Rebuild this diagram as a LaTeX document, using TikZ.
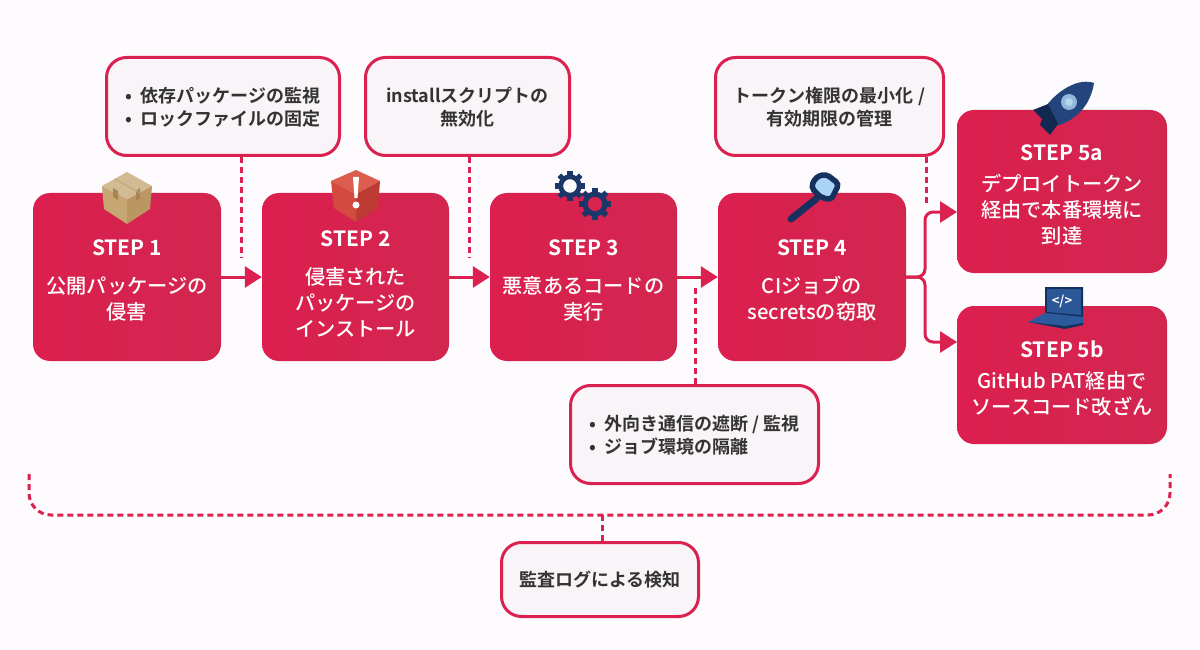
\documentclass[tikz,border=0pt]{standalone}
\usepackage{fontspec}
\setmainfont{Noto Sans CJK JP Medium}[BoldFont={Noto Sans CJK JP Bold}]
\usetikzlibrary{arrows.meta,calc}
\definecolor{bgc}{HTML}{FDFBFD}
\definecolor{crim}{HTML}{DA2150}
\definecolor{crimA}{HTML}{DC1F4E}
\definecolor{crimB}{HTML}{D2264F}
\definecolor{calloutfill}{HTML}{F9F4F7}
\definecolor{inkc}{HTML}{333333}
\definecolor{navy}{HTML}{1B3768}
\definecolor{navyb}{HTML}{24447C}
\definecolor{navyd}{HTML}{14294F}
\definecolor{keyd}{HTML}{16305F}
\definecolor{keyl}{HTML}{A9D4F5}
\definecolor{cardT}{HTML}{D2BA94}
\definecolor{cardL}{HTML}{C6A673}
\definecolor{cardR}{HTML}{BA9663}
\definecolor{cardD}{HTML}{A98552}
\definecolor{cardS}{HTML}{BFA27A}
\definecolor{redT}{HTML}{DC5D4E}
\definecolor{redL}{HTML}{D24B3E}
\definecolor{redR}{HTML}{BE3B33}
\definecolor{winA}{HTML}{8FB8DC}
\definecolor{winB}{HTML}{B5D3EA}
\definecolor{lapD}{HTML}{14305F}
\definecolor{lapS}{HTML}{2B5797}
\definecolor{lapK}{HTML}{2C5A9C}
\tikzset{
 x=1pt,y=-1pt,
 stepbox/.style={rectangle,rounded corners=17pt,left color=crimA,right color=crimB,draw=none,inner sep=0pt},
 steptxt/.style={text=white,align=center,inner sep=0pt,font=\fontsize{20.2}{26}\selectfont},
 callout/.style={rectangle,rounded corners=20pt,draw=crim,line width=3pt,fill=calloutfill,inner sep=0pt},
 calltxt/.style={text=inkc,inner sep=0pt,font=\fontsize{18}{23}\selectfont\bfseries},
 flow/.style={draw=crim,line width=3pt,-{Triangle[length=17pt,width=21pt]}},
 guard/.style={draw=crim,line width=3pt,dash pattern=on 6pt off 4pt},
}
\newcommand{\ttl}[1]{\textbf{\fontsize{21}{26}\selectfont #1}}
\newcommand{\gearicon}[3]{%
 \draw[navy,line width=#3*0.34pt] (#1,#2) circle[radius=#3*0.66];
 \foreach \a in {0,45,...,315}
  \draw[navy,line width=#3*0.36pt] ($(#1,#2)+(\a:#3*0.7)$) -- ($(#1,#2)+(\a:#3*1.08)$);
}
\begin{document}
\begin{tikzpicture}
\useasboundingbox (0,0) rectangle (1200,650);
\fill[bgc] (0,0) rectangle (1200,650);
% step boxes
\node[stepbox,minimum width=188pt,minimum height=168pt] (s1) at (127,277) {};
\node[stepbox,minimum width=187pt,minimum height=168pt] (s2) at (355.5,277) {};
\node[stepbox,minimum width=187pt,minimum height=168pt] (s3) at (583.5,277) {};
\node[stepbox,minimum width=188pt,minimum height=168pt] (s4) at (812,277) {};
\node[stepbox,minimum width=210pt,minimum height=163pt] (s5a) at (1062,191.5) {};
\node[stepbox,minimum width=210pt,minimum height=138pt] (s5b) at (1062,375) {};
% step texts
\node[steptxt] (t1) at (127,280.5) {\ttl{STEP 1}\\[12pt]公開パッケージの\\侵害};
\node[steptxt] (t2) at (355.5,283.5) {\ttl{STEP 2}\\[12pt]侵害された\\パッケージの\\インストール};
\node[steptxt] (t3) at (583.5,280.5) {\ttl{STEP 3}\\[12pt]悪意あるコードの\\実行};
\node[steptxt] (t4) at (812,280.5) {\ttl{STEP 4}\\[12pt]CIジョブの\\secretsの窃取};
\node[steptxt] (t5a) at (1062,195) {\ttl{STEP 5a}\\[5pt]デプロイトークン\\経由で本番環境に\\到達};
\node[steptxt] (t5b) at (1062,379) {\ttl{STEP 5b}\\[5pt]GitHub PAT経由で\\ソースコード改ざん};
% callouts
\node[callout,minimum width=233pt,minimum height=98pt] (ca) at (223,106.5) {};
\node[callout,minimum width=204pt,minimum height=98pt] (cb) at (467.5,106.5) {};
\node[callout,minimum width=228pt,minimum height=98pt] (cc) at (829.5,106.5) {};
\node[callout,minimum width=248pt,minimum height=98pt] (cd) at (694.5,434.5) {};
\node[callout,minimum width=197pt,minimum height=74pt] (ce) at (600,579.5) {};
\node[calltxt,align=left] (ta) at (223,107.5) {•\hspace{9pt}依存パッケージの監視\\•\hspace{9pt}ロックファイルの固定};
\node[calltxt,align=center] (tb) at (467.5,107.5) {installスクリプトの\\無効化};
\node[calltxt,align=center] (tc) at (829.5,107.5) {トークン権限の最小化 /\\有効期限の管理};
\node[calltxt,align=left] (td) at (694.5,435) {•\hspace{9pt}外向き通信の遮断 / 監視\\•\hspace{9pt}ジョブ環境の隔離};
\node[calltxt] (te) at (600,580) {監査ログによる検知};
% flow connectors
\draw[flow] (s1.east) -- (s2.west);
\draw[flow] (s2.east) -- (s3.west);
\draw[flow] (s3.east) -- (s4.west);
\coordinate (jn) at (925,277);
\coordinate (in5a) at (957,212);
\coordinate (in5b) at (957,342);
\draw[flow,rounded corners=8pt] (s4.east) -- (jn) |- (in5a);
\draw[flow,rounded corners=8pt] (s4.east) -- (jn) |- (in5b);
% dotted guards
\coordinate (ga) at (241,258);
\coordinate (gb) at (469,258);
\coordinate (gc) at (926,205);
\coordinate (gd) at (695,286);
\draw[guard] (ca.south -| ga) -- (ga);
\draw[guard] (cb.south -| gb) -- (gb);
\draw[guard] (cc.south -| gc) -- (gc);
\draw[guard] (cd.north -| gd) -- (gd);
\coordinate (bl) at (29,474);
\coordinate (bc) at (602,515);
\coordinate (br) at (1170,474);
\draw[guard,rounded corners=22pt] (bl) |- (bc) -| (br);
\draw[guard] (ce.north -| bc) -- (bc);
% icon: cardboard box
\fill[cardT] (127,172) -- (152,186) -- (127,200) -- (102,186) -- cycle;
\fill[cardL] (102,186) -- (127,200) -- (127,224) -- (104,209) -- cycle;
\fill[cardR] (152,186) -- (127,200) -- (127,224) -- (150,209) -- cycle;
\fill[cardD] (113,188) -- (118,191) -- (118,200) -- (113,197) -- cycle;
\fill[cardD] (136,191) -- (140,188) -- (140,198) -- (136,201) -- cycle;
\draw[cardS,line width=1pt] (115,179) -- (140,193);
% icon: compromised box
\fill[redT] (356,170) -- (380,181) -- (356,194) -- (331,181) -- cycle;
\fill[redL] (331,181) -- (356,194) -- (356,222) -- (334,208) -- cycle;
\fill[redR] (380,181) -- (356,194) -- (356,222) -- (378,208) -- cycle;
\fill[white] (353,177) -- (359,177) -- (357.5,198) -- (354.5,198) -- cycle;
\fill[white] (356,205) circle[radius=3.5];
% icon: gears
\gearicon{570}{186}{14}
\gearicon{595}{204}{15}
% icon: key
\draw[keyd,line width=7pt,line cap=round] (816,199) -- (791,219);
\filldraw[fill=keyl,draw=keyd,line width=5.5pt,rounded corners=4pt] (826,174) -- (839,184) -- (831,200) -- (820,197) -- (811,187) -- (816,177) -- cycle;
% icon: rocket
\fill[navyb] (1094,83) .. controls (1080,78) and (1060,88) .. (1046,106) -- (1045,116) -- (1056,126) .. controls (1078,120) and (1091,103) .. (1094,83) -- cycle;
\fill[navyd] (1048,104) -- (1033,110) -- (1042,119) -- (1040,125) -- (1050,135) -- (1058,124) -- cycle;
\fill[winA] (1069,102) circle[radius=8];
\fill[winB] (1069,102) circle[radius=4];
% icon: laptop
\fill[lapD] (1045,287) -- (1083,287) -- (1083,318) -- (1045,314) -- cycle;
\fill[lapS] (1047,289) -- (1081,289) -- (1081,315) -- (1047,312) -- cycle;
\fill[lapK] (1028,322) -- (1045,313) -- (1083,317) -- (1083,325) -- (1065,328) -- cycle;
\fill[lapD] (1028,322) -- (1065,326) -- (1083,323) -- (1083,325) -- (1065,329) -- cycle;
\node[inner sep=0pt,text=white,font=\fontsize{13}{14}\selectfont\bfseries] (code) at (1062,301) {</>};
\end{tikzpicture}
\end{document}
